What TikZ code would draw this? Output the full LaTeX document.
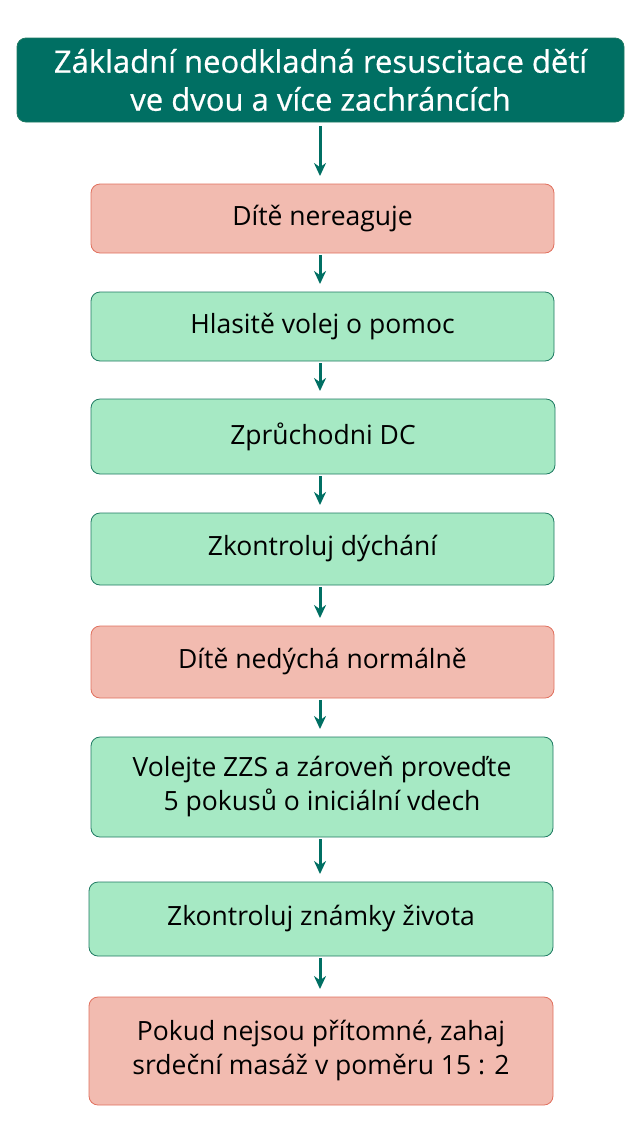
\documentclass[tikz,border=0pt]{standalone}
\usepackage{fontspec}
\setmainfont{Open Sans}
\newfontfamily\titlefont[FakeBold=0.6]{Open Sans}
\usetikzlibrary{arrows.meta}
\definecolor{teal1}{HTML}{006F63}
\definecolor{pinkf}{HTML}{F2BBB0}
\definecolor{pinkd}{HTML}{E0705E}
\definecolor{greenf}{HTML}{A6E9C4}
\definecolor{greend}{HTML}{1E7A62}
\begin{document}
\begin{tikzpicture}[x=1pt,y=-1pt,
 box/.style={rounded corners=9pt,line width=0.8pt,font=\fontsize{26.5}{34}\selectfont,align=center},
 pinkbox/.style={box,fill=pinkf,draw=pinkd},
 greenbox/.style={box,fill=greenf,draw=greend},
 arr/.style={-{Stealth[length=13pt,width=12pt]},line width=3pt,draw=teal1}]
\useasboundingbox (0,0) rectangle (642,1141);
\newcommand{\bx}[7]{\draw[#1] (#3,#4) rectangle (#5,#6); \node[#1,draw=none,fill=none] (#2) at ({(#3+#5)/2},{(#4+#6)/2}) {#7};
 \coordinate (#2t) at (320,#4); \coordinate (#2b) at (320,#6);}
\bx{box,fill=teal1,draw=greend,text=white,font=\titlefont\fontsize{31}{38}\selectfont}{t}{17}{38}{624}{122}{Základní neodkladná resuscitace dětí\\ve dvou a více zachráncích}
\bx{pinkbox}{a}{91}{184}{554}{253}{Dítě nereaguje}
\bx{greenbox}{b}{91}{292}{554}{361}{Hlasitě volej o pomoc}
\bx{greenbox}{c}{91}{399}{555}{474}{Zprůchodni DC}
\bx{greenbox}{d}{91}{513}{554}{585}{Zkontroluj dýchání}
\bx{pinkbox}{e}{91}{626}{554}{698}{Dítě nedýchá normálně}
\bx{greenbox}{f}{91}{737}{553}{837}{Volejte ZZS a zároveň proveďte\\5 pokusů o iniciální vdech}
\bx{greenbox}{g}{89}{882}{553}{956}{Zkontroluj známky života}
\bx{pinkbox}{h}{89}{997}{553}{1105}{Pokud nejsou přítomné, zahaj\\srdeční masáž v poměru 15 : 2}
\draw[arr] ([yshift=-4pt]tb) -- ([yshift=8pt]at);
\draw[arr] ([yshift=-2pt]ab) -- ([yshift=8pt]bt);
\draw[arr] ([yshift=-2pt]bb) -- ([yshift=8pt]ct);
\draw[arr] ([yshift=-2pt]cb) -- ([yshift=8pt]dt);
\draw[arr] ([yshift=-2pt]db) -- ([yshift=8pt]et);
\draw[arr] ([yshift=-2pt]eb) -- ([yshift=8pt]ft);
\draw[arr] ([yshift=-2pt]fb) -- ([yshift=8pt]gt);
\draw[arr] ([yshift=-2pt]gb) -- ([yshift=8pt]ht);
\end{tikzpicture}
\end{document}
